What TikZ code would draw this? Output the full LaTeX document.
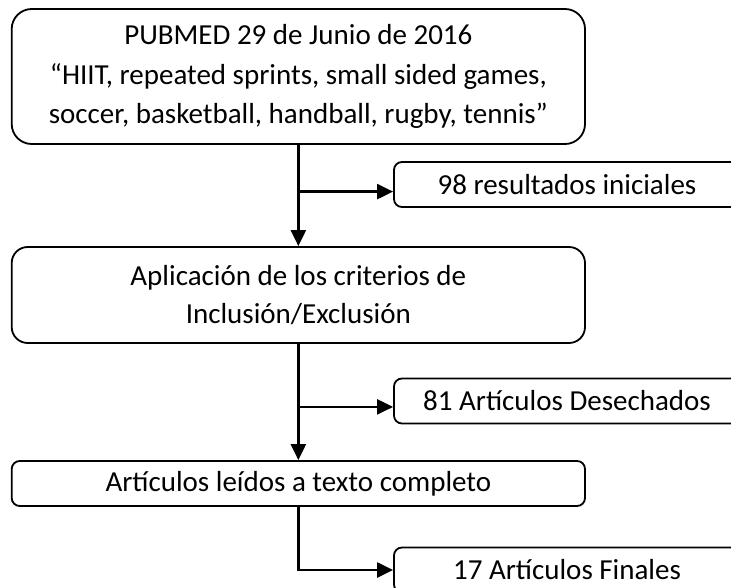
\documentclass[tikz,border=0pt]{standalone}
\usepackage{fontspec}
\setmainfont{Carlito}
\usetikzlibrary{arrows.meta}
\begin{document}
\begin{tikzpicture}[x=1pt,y=-1pt,
  every node/.style={font=\fontsize{29}{39.5}\selectfont, align=center, inner sep=0pt},
  mainbox/.style={draw, line width=1.8pt, rounded corners=#1, minimum width=573.3pt},
  sidebox/.style={draw, line width=1.8pt, rounded corners=8pt, minimum width=346pt, minimum height=45pt},
  conn/.style={line width=2.3pt, -{Triangle[length=16pt,width=15pt]}},
  connplain/.style={line width=2.3pt}]
\useasboundingbox (0,0) rectangle (731,587);
\clip (0,0) rectangle (731,587);
\fill[white] (0,0) rectangle (731,587);
\node[mainbox=20pt, minimum height=135pt] (pub) at (298.35,76.5)
  {PUBMED 29 de Junio de 2016\\“HIIT, repeated sprints, small sided games,\\soccer, basketball, handball, rugby, tennis”};
\node[mainbox=16pt, minimum height=96pt, font=\fontsize{29}{38}\selectfont] (crit) at (298.35,295)
  {Aplicación de los criterios de\\Inclusión/Exclusión};
\node[mainbox=8pt, minimum height=45pt] (full) at (298.35,483.5)
  {Artículos leídos a texto completo};
\node[sidebox] (r98) at (567,184.5) {98 resultados iniciales};
\node[sidebox] (r81) at (567,401) {81 Artículos Desechados};
\node[sidebox] (r17) at (567,570) {17 Artículos Finales};
% connectors
\draw[conn] (pub.south) -- (crit.north);
\path (pub.south) ++(0,46.7) coordinate (j1);
\draw[conn] (j1) -- (j1 -| r98.west);
\draw[conn] (crit.south) -- (full.north);
\path (crit.south) ++(0,63) coordinate (j2);
\draw[conn] (j2) -- (j2 -| r81.west);
\draw[conn] (full.south) |- (r17.west);
\end{tikzpicture}
\end{document}
